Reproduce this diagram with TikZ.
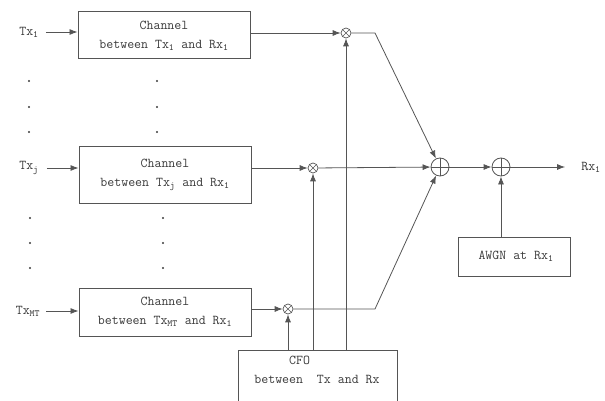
\documentclass[tikz,border=0pt]{standalone}
\usepackage{fontspec}
\usetikzlibrary{arrows.meta}
\definecolor{ln}{HTML}{555555}
\definecolor{tx}{HTML}{3a3a3a}
\tikzset{
  every node/.style={text=tx, font=\ttfamily\fontsize{13.5}{19}\selectfont\addfontfeatures{LetterSpace=6}},
  blk/.style={draw=ln, line width=1pt, inner sep=0pt},
  lbl/.style={inner sep=0pt},
  wire/.style={draw=ln, line width=0.8pt},
  arr/.style={wire, -{Latex[length=8pt,width=6pt]}},
  mul/.style={circle, draw=ln, line width=0.7pt, minimum size=10pt, inner sep=0pt,
    path picture={\draw[ln, line width=0.6pt] (path picture bounding box.north west)--(path picture bounding box.south east)
      (path picture bounding box.north east)--(path picture bounding box.south west);}},
  sum/.style={circle, draw=ln, line width=0.8pt, minimum size=18pt, inner sep=0pt,
    path picture={\draw[ln, line width=0.7pt] (path picture bounding box.north)--(path picture bounding box.south)
      (path picture bounding box.west)--(path picture bounding box.east);}},
  dotm/.style={circle, fill=tx, inner sep=0pt, minimum size=2.2pt},
}
\begin{document}
\begin{tikzpicture}[x=1pt, y=-1pt]
\useasboundingbox (0,0) rectangle (605,401);
% channel boxes
\node[blk, minimum width=172pt, minimum height=47pt, align=center] (ch1) at (164,35.5) {Channel\\between Tx\textsubscript{1} and Rx\textsubscript{1}};
\node[blk, minimum width=172pt, minimum height=56pt, align=center] (ch2) at (165,175) {Channel\\between Tx\textsubscript{j} and Rx\textsubscript{1}};
\node[blk, minimum width=172pt, minimum height=48pt, align=center] (ch3) at (165,312) {Channel\\between Tx\textsubscript{MT} and Rx\textsubscript{1}};
% Tx labels
\node[lbl] (tx1) at (29,32) {Tx\textsubscript{1}};
\node[lbl] (tx2) at (29,168) {Tx\textsubscript{j}};
\node[lbl] (tx3) at (28,311) {Tx\textsubscript{MT}};
\draw[arr] ([xshift=7pt]tx1.east) -- (tx1 -| ch1.west);
\draw[arr] ([xshift=8pt]tx2.east) -- (tx2 -| ch2.west);
\draw[arr] ([xshift=6pt]tx3.east) -- (tx3 -| ch3.west);
% dots
\foreach \y [count=\i] in {81,107,132} {
  \node[dotm] (dl\i) at (29,\y) {};
  \node[dotm] (dc\i) at (157,\y) {};
}
\foreach \y [count=\i] in {218,243,268} {
  \node[dotm] (el\i) at (30,\y) {};
  \node[dotm] (ec\i) at (163,\y) {};
}
% multipliers and adders
\node[mul] (m1) at (346,33) {};
\node[mul] (m2) at (313,168) {};
\node[mul] (m3) at (288,309) {};
\node[sum] (s1) at (440,167) {};
\node[sum] (s2) at (501,167) {};
\node[lbl] (rx) at (591,167) {Rx\textsubscript{1}};
% CFO box
\node[blk, minimum width=159pt, minimum height=56pt, anchor=north west] (cfo) at (238,350) {};
\node[lbl, align=left, anchor=north] (cfot) at ([yshift=-6pt,xshift=-1pt]cfo.north) {\phantom{betwe}CFO\\between\ \ Tx and Rx};
% AWGN box
\node[blk, minimum width=112pt, minimum height=39pt, anchor=north west] (awgn) at (458,237) {};
\node[lbl] (awgnt) at (516,256) {AWGN at Rx\textsubscript{1}};
% connections
\draw[arr] (ch1.east |- m1) -- (m1);
\draw[arr] (ch2.east |- m2) -- (m2);
\draw[arr] (ch3.east |- m3) -- (m3);
\coordinate (k1) at (375,33);
\coordinate (k3) at (375,309);
\draw[arr] (m1) -- (k1) -- (s1);
\draw[arr] (m2) -- (s1);
\draw[arr] (m3) -- (k3) -- (s1);
\draw[arr] (cfo.north -| m1) -- (m1);
\draw[arr] (cfo.north -| m2) -- (m2);
\draw[arr] (cfo.north -| m3) -- (m3);
\draw[arr] (s1) -- (s2);
\draw[arr] (s2) -- ([xshift=-16pt]rx.west);
\draw[arr] (awgn.north -| s2) -- (s2);
\end{tikzpicture}
\end{document}
